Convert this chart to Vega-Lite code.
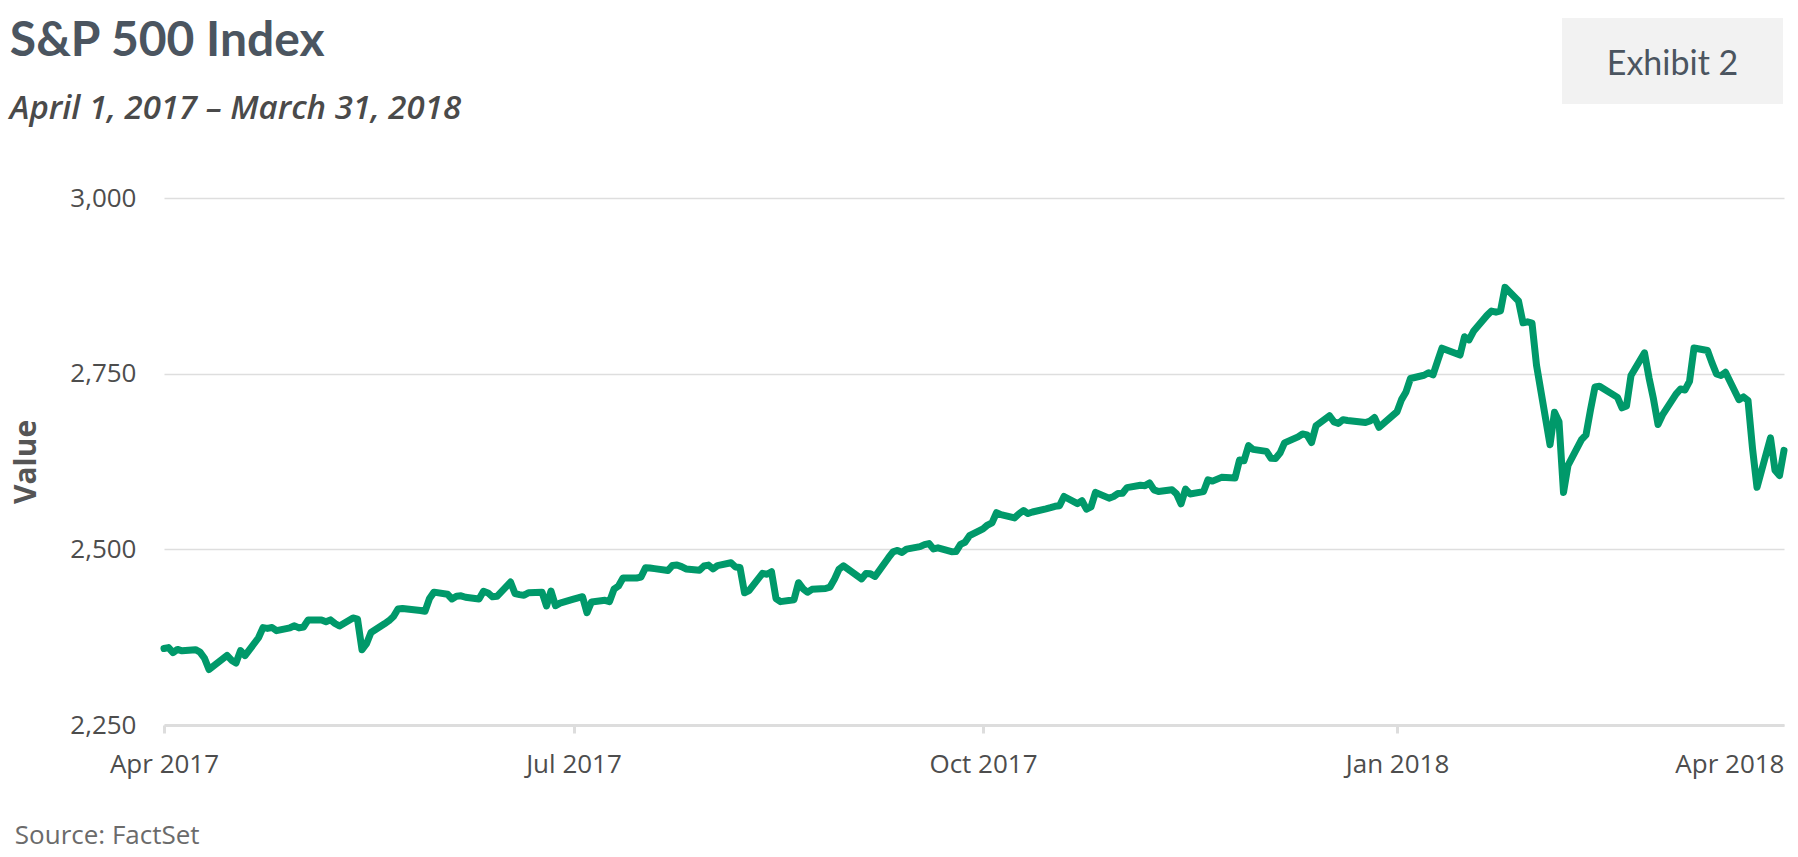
{
  "$schema": "https://vega.github.io/schema/vega-lite/v6.json",
  "description": "S&P 500 Index, daily close, April 2017 - March 2018",
  "background": "white",
  "padding": {"left": 9, "top": 18, "right": 10, "bottom": 8},
  "config": {"font": "Open Sans", "view": {"stroke": null}},
  "title": {
    "text": "S&P 500 Index",
    "subtitle": "April 1, 2017 – March 31, 2018",
    "anchor": "start",
    "offset": -108,
    "dx": -2,
    "font": "Lato",
    "fontSize": 48,
    "fontWeight": "bold",
    "color": "#4b5560",
    "subtitleFont": "Open Sans",
    "subtitleFontSize": 33,
    "subtitleFontStyle": "italic",
    "subtitleFontWeight": 600,
    "subtitleColor": "#4a4a4a",
    "subtitlePadding": 27
  },
  "columns": 1,
  "spacing": 81,
  "concat": [
    {
      "spacing": 0,
      "concat": [
        {
          "width": 1398,
          "height": 86,
          "data": {"values": []},
          "mark": "point"
        },
        {
          "width": 221,
          "height": 86,
          "view": {"fill": "#f2f2f2", "stroke": null},
          "data": {"values": [{"label": "Exhibit 2"}]},
          "mark": {"type": "text", "font": "Lato", "fontSize": 34, "color": "#4b5560", "dy": 4},
          "encoding": {"text": {"field": "label"}}
        }
      ]
    },
    {
      "width": 1620,
      "height": 527,
      "title": {
        "text": "Source: FactSet",
        "orient": "bottom",
        "anchor": "start",
        "frame": "bounds",
        "font": "Open Sans",
        "fontSize": 26,
        "fontWeight": "normal",
        "color": "#6b6b6b",
        "offset": 46,
        "dx": 3
      },
      "data": {
        "values": [
          {"date": "2017-04-03", "value": 2358.84},
          {"date": "2017-04-04", "value": 2360.16},
          {"date": "2017-04-05", "value": 2352.95},
          {"date": "2017-04-06", "value": 2357.49},
          {"date": "2017-04-07", "value": 2355.54},
          {"date": "2017-04-10", "value": 2357.16},
          {"date": "2017-04-11", "value": 2353.78},
          {"date": "2017-04-12", "value": 2344.93},
          {"date": "2017-04-13", "value": 2328.95},
          {"date": "2017-04-17", "value": 2349.01},
          {"date": "2017-04-18", "value": 2342.19},
          {"date": "2017-04-19", "value": 2338.17},
          {"date": "2017-04-20", "value": 2355.84},
          {"date": "2017-04-21", "value": 2348.69},
          {"date": "2017-04-24", "value": 2374.15},
          {"date": "2017-04-25", "value": 2388.61},
          {"date": "2017-04-26", "value": 2387.45},
          {"date": "2017-04-27", "value": 2388.77},
          {"date": "2017-04-28", "value": 2384.20},
          {"date": "2017-05-01", "value": 2388.33},
          {"date": "2017-05-02", "value": 2391.17},
          {"date": "2017-05-03", "value": 2388.13},
          {"date": "2017-05-04", "value": 2389.52},
          {"date": "2017-05-05", "value": 2399.29},
          {"date": "2017-05-08", "value": 2399.38},
          {"date": "2017-05-09", "value": 2396.92},
          {"date": "2017-05-10", "value": 2399.63},
          {"date": "2017-05-11", "value": 2394.44},
          {"date": "2017-05-12", "value": 2390.90},
          {"date": "2017-05-15", "value": 2402.32},
          {"date": "2017-05-16", "value": 2400.67},
          {"date": "2017-05-17", "value": 2357.03},
          {"date": "2017-05-18", "value": 2365.72},
          {"date": "2017-05-19", "value": 2381.73},
          {"date": "2017-05-22", "value": 2394.02},
          {"date": "2017-05-23", "value": 2398.42},
          {"date": "2017-05-24", "value": 2404.39},
          {"date": "2017-05-25", "value": 2415.07},
          {"date": "2017-05-26", "value": 2415.82},
          {"date": "2017-05-30", "value": 2412.91},
          {"date": "2017-05-31", "value": 2411.80},
          {"date": "2017-06-01", "value": 2430.06},
          {"date": "2017-06-02", "value": 2439.07},
          {"date": "2017-06-05", "value": 2436.10},
          {"date": "2017-06-06", "value": 2429.33},
          {"date": "2017-06-07", "value": 2433.14},
          {"date": "2017-06-08", "value": 2433.79},
          {"date": "2017-06-09", "value": 2431.77},
          {"date": "2017-06-12", "value": 2429.39},
          {"date": "2017-06-13", "value": 2440.35},
          {"date": "2017-06-14", "value": 2437.92},
          {"date": "2017-06-15", "value": 2432.46},
          {"date": "2017-06-16", "value": 2433.15},
          {"date": "2017-06-19", "value": 2453.46},
          {"date": "2017-06-20", "value": 2437.03},
          {"date": "2017-06-21", "value": 2435.61},
          {"date": "2017-06-22", "value": 2434.50},
          {"date": "2017-06-23", "value": 2438.30},
          {"date": "2017-06-26", "value": 2439.07},
          {"date": "2017-06-27", "value": 2419.38},
          {"date": "2017-06-28", "value": 2440.69},
          {"date": "2017-06-29", "value": 2419.70},
          {"date": "2017-06-30", "value": 2423.41},
          {"date": "2017-07-03", "value": 2429.01},
          {"date": "2017-07-05", "value": 2432.54},
          {"date": "2017-07-06", "value": 2409.75},
          {"date": "2017-07-07", "value": 2425.18},
          {"date": "2017-07-10", "value": 2427.43},
          {"date": "2017-07-11", "value": 2425.53},
          {"date": "2017-07-12", "value": 2443.25},
          {"date": "2017-07-13", "value": 2447.83},
          {"date": "2017-07-14", "value": 2459.27},
          {"date": "2017-07-17", "value": 2459.14},
          {"date": "2017-07-18", "value": 2460.61},
          {"date": "2017-07-19", "value": 2473.83},
          {"date": "2017-07-20", "value": 2473.45},
          {"date": "2017-07-21", "value": 2472.54},
          {"date": "2017-07-24", "value": 2469.91},
          {"date": "2017-07-25", "value": 2477.13},
          {"date": "2017-07-26", "value": 2477.83},
          {"date": "2017-07-27", "value": 2475.42},
          {"date": "2017-07-28", "value": 2472.10},
          {"date": "2017-07-31", "value": 2470.30},
          {"date": "2017-08-01", "value": 2476.35},
          {"date": "2017-08-02", "value": 2477.57},
          {"date": "2017-08-03", "value": 2472.16},
          {"date": "2017-08-04", "value": 2476.83},
          {"date": "2017-08-07", "value": 2480.91},
          {"date": "2017-08-08", "value": 2474.92},
          {"date": "2017-08-09", "value": 2474.02},
          {"date": "2017-08-10", "value": 2438.21},
          {"date": "2017-08-11", "value": 2441.32},
          {"date": "2017-08-14", "value": 2465.84},
          {"date": "2017-08-15", "value": 2464.61},
          {"date": "2017-08-16", "value": 2468.11},
          {"date": "2017-08-17", "value": 2430.01},
          {"date": "2017-08-18", "value": 2425.55},
          {"date": "2017-08-21", "value": 2428.37},
          {"date": "2017-08-22", "value": 2452.51},
          {"date": "2017-08-23", "value": 2444.04},
          {"date": "2017-08-24", "value": 2438.97},
          {"date": "2017-08-25", "value": 2443.05},
          {"date": "2017-08-28", "value": 2444.24},
          {"date": "2017-08-29", "value": 2446.30},
          {"date": "2017-08-30", "value": 2457.59},
          {"date": "2017-08-31", "value": 2471.65},
          {"date": "2017-09-01", "value": 2476.55},
          {"date": "2017-09-05", "value": 2457.85},
          {"date": "2017-09-06", "value": 2465.54},
          {"date": "2017-09-07", "value": 2465.10},
          {"date": "2017-09-08", "value": 2461.43},
          {"date": "2017-09-11", "value": 2488.11},
          {"date": "2017-09-12", "value": 2496.48},
          {"date": "2017-09-13", "value": 2498.37},
          {"date": "2017-09-14", "value": 2495.62},
          {"date": "2017-09-15", "value": 2500.23},
          {"date": "2017-09-18", "value": 2503.87},
          {"date": "2017-09-19", "value": 2506.65},
          {"date": "2017-09-20", "value": 2508.24},
          {"date": "2017-09-21", "value": 2500.60},
          {"date": "2017-09-22", "value": 2502.22},
          {"date": "2017-09-25", "value": 2496.66},
          {"date": "2017-09-26", "value": 2496.84},
          {"date": "2017-09-27", "value": 2507.04},
          {"date": "2017-09-28", "value": 2510.06},
          {"date": "2017-09-29", "value": 2519.36},
          {"date": "2017-10-02", "value": 2529.12},
          {"date": "2017-10-03", "value": 2534.58},
          {"date": "2017-10-04", "value": 2537.74},
          {"date": "2017-10-05", "value": 2552.07},
          {"date": "2017-10-06", "value": 2549.33},
          {"date": "2017-10-09", "value": 2544.73},
          {"date": "2017-10-10", "value": 2550.64},
          {"date": "2017-10-11", "value": 2555.24},
          {"date": "2017-10-12", "value": 2550.93},
          {"date": "2017-10-13", "value": 2553.17},
          {"date": "2017-10-16", "value": 2557.64},
          {"date": "2017-10-17", "value": 2559.36},
          {"date": "2017-10-18", "value": 2561.26},
          {"date": "2017-10-19", "value": 2562.10},
          {"date": "2017-10-20", "value": 2575.21},
          {"date": "2017-10-23", "value": 2564.98},
          {"date": "2017-10-24", "value": 2569.13},
          {"date": "2017-10-25", "value": 2557.15},
          {"date": "2017-10-26", "value": 2560.40},
          {"date": "2017-10-27", "value": 2581.07},
          {"date": "2017-10-30", "value": 2572.83},
          {"date": "2017-10-31", "value": 2575.26},
          {"date": "2017-11-01", "value": 2579.36},
          {"date": "2017-11-02", "value": 2579.85},
          {"date": "2017-11-03", "value": 2587.84},
          {"date": "2017-11-06", "value": 2591.13},
          {"date": "2017-11-07", "value": 2590.64},
          {"date": "2017-11-08", "value": 2594.38},
          {"date": "2017-11-09", "value": 2584.62},
          {"date": "2017-11-10", "value": 2582.30},
          {"date": "2017-11-13", "value": 2584.84},
          {"date": "2017-11-14", "value": 2578.87},
          {"date": "2017-11-15", "value": 2564.62},
          {"date": "2017-11-16", "value": 2585.64},
          {"date": "2017-11-17", "value": 2578.85},
          {"date": "2017-11-20", "value": 2582.14},
          {"date": "2017-11-21", "value": 2599.03},
          {"date": "2017-11-22", "value": 2597.08},
          {"date": "2017-11-24", "value": 2602.42},
          {"date": "2017-11-27", "value": 2601.42},
          {"date": "2017-11-28", "value": 2627.04},
          {"date": "2017-11-29", "value": 2626.07},
          {"date": "2017-11-30", "value": 2647.58},
          {"date": "2017-12-01", "value": 2642.22},
          {"date": "2017-12-04", "value": 2639.44},
          {"date": "2017-12-05", "value": 2629.57},
          {"date": "2017-12-06", "value": 2629.27},
          {"date": "2017-12-07", "value": 2636.98},
          {"date": "2017-12-08", "value": 2651.50},
          {"date": "2017-12-11", "value": 2659.99},
          {"date": "2017-12-12", "value": 2664.11},
          {"date": "2017-12-13", "value": 2662.85},
          {"date": "2017-12-14", "value": 2652.01},
          {"date": "2017-12-15", "value": 2675.81},
          {"date": "2017-12-18", "value": 2690.16},
          {"date": "2017-12-19", "value": 2681.47},
          {"date": "2017-12-20", "value": 2679.25},
          {"date": "2017-12-21", "value": 2684.57},
          {"date": "2017-12-22", "value": 2683.34},
          {"date": "2017-12-26", "value": 2680.50},
          {"date": "2017-12-27", "value": 2682.62},
          {"date": "2017-12-28", "value": 2687.54},
          {"date": "2017-12-29", "value": 2673.61},
          {"date": "2018-01-02", "value": 2695.81},
          {"date": "2018-01-03", "value": 2713.06},
          {"date": "2018-01-04", "value": 2723.99},
          {"date": "2018-01-05", "value": 2743.15},
          {"date": "2018-01-08", "value": 2747.71},
          {"date": "2018-01-09", "value": 2751.29},
          {"date": "2018-01-10", "value": 2748.23},
          {"date": "2018-01-11", "value": 2767.56},
          {"date": "2018-01-12", "value": 2786.24},
          {"date": "2018-01-16", "value": 2776.42},
          {"date": "2018-01-17", "value": 2802.56},
          {"date": "2018-01-18", "value": 2798.03},
          {"date": "2018-01-19", "value": 2810.30},
          {"date": "2018-01-22", "value": 2832.97},
          {"date": "2018-01-23", "value": 2839.13},
          {"date": "2018-01-24", "value": 2837.54},
          {"date": "2018-01-25", "value": 2839.25},
          {"date": "2018-01-26", "value": 2872.87},
          {"date": "2018-01-29", "value": 2853.53},
          {"date": "2018-01-30", "value": 2822.43},
          {"date": "2018-01-31", "value": 2823.81},
          {"date": "2018-02-01", "value": 2821.98},
          {"date": "2018-02-02", "value": 2762.13},
          {"date": "2018-02-05", "value": 2648.94},
          {"date": "2018-02-06", "value": 2695.14},
          {"date": "2018-02-07", "value": 2681.66},
          {"date": "2018-02-08", "value": 2581.00},
          {"date": "2018-02-09", "value": 2619.55},
          {"date": "2018-02-12", "value": 2656.00},
          {"date": "2018-02-13", "value": 2662.94},
          {"date": "2018-02-14", "value": 2698.63},
          {"date": "2018-02-15", "value": 2731.20},
          {"date": "2018-02-16", "value": 2732.22},
          {"date": "2018-02-20", "value": 2716.26},
          {"date": "2018-02-21", "value": 2701.33},
          {"date": "2018-02-22", "value": 2703.96},
          {"date": "2018-02-23", "value": 2747.30},
          {"date": "2018-02-26", "value": 2779.60},
          {"date": "2018-02-27", "value": 2744.28},
          {"date": "2018-02-28", "value": 2713.83},
          {"date": "2018-03-01", "value": 2677.67},
          {"date": "2018-03-02", "value": 2691.25},
          {"date": "2018-03-05", "value": 2720.94},
          {"date": "2018-03-06", "value": 2728.12},
          {"date": "2018-03-07", "value": 2726.80},
          {"date": "2018-03-08", "value": 2738.97},
          {"date": "2018-03-09", "value": 2786.57},
          {"date": "2018-03-12", "value": 2783.02},
          {"date": "2018-03-13", "value": 2765.31},
          {"date": "2018-03-14", "value": 2749.48},
          {"date": "2018-03-15", "value": 2747.33},
          {"date": "2018-03-16", "value": 2752.01},
          {"date": "2018-03-19", "value": 2712.92},
          {"date": "2018-03-20", "value": 2716.94},
          {"date": "2018-03-21", "value": 2711.93},
          {"date": "2018-03-22", "value": 2643.69},
          {"date": "2018-03-23", "value": 2588.26},
          {"date": "2018-03-26", "value": 2658.55},
          {"date": "2018-03-27", "value": 2612.62},
          {"date": "2018-03-28", "value": 2605.00},
          {"date": "2018-03-29", "value": 2640.87}
        ]
      },
      "mark": {"type": "line", "color": "#00996a", "strokeWidth": 7, "strokeJoin": "round", "strokeCap": "round"},
      "encoding": {
        "x": {
          "field": "date",
          "type": "temporal",
          "scale": {"type": "utc", "nice": false},
          "axis": {
            "title": null,
            "grid": false,
            "values": [
              {"year": 2017, "month": 4, "date": 3, "utc": true},
              {"year": 2017, "month": 7, "date": 3, "utc": true},
              {"year": 2017, "month": 10, "date": 2, "utc": true},
              {"year": 2018, "month": 1, "date": 2, "utc": true},
              {"year": 2018, "month": 3, "date": 29, "utc": true}
            ],
            "labelExpr": "utcFormat(time(datum.value) + 345600000, '%b %Y')",
            "labelFlush": false,
            "labelOverlap": false,
            "labelAlign": {"condition": {"test": "datum.index == 1", "value": "right"}, "value": "center"},
            "labelFont": "Open Sans",
            "labelFontSize": 26,
            "labelColor": "#4d4d4d",
            "labelPadding": 18,
            "domainColor": "#dddddd",
            "domainWidth": 3,
            "tickColor": "#dddddd",
            "tickWidth": 3,
            "tickSize": 8,
            "tickOpacity": {"condition": {"test": "datum.index == 1", "value": 0}, "value": 1}
          }
        },
        "y": {
          "field": "value",
          "type": "quantitative",
          "title": "Value",
          "scale": {"domain": [2250, 3000], "nice": false, "zero": false},
          "axis": {
            "values": [2250, 2500, 2750, 3000],
            "format": ",.0f",
            "domain": false,
            "ticks": false,
            "gridColor": "#dedede",
            "gridWidth": 1.5,
            "labelFont": "Open Sans",
            "labelFontSize": 26,
            "labelColor": "#4d4d4d",
            "labelPadding": 28,
            "titleFont": "Open Sans",
            "titleFontSize": 30,
            "titleFontWeight": "bold",
            "titleColor": "#555555",
            "titlePadding": 28
          }
        }
      }
    }
  ]
}
